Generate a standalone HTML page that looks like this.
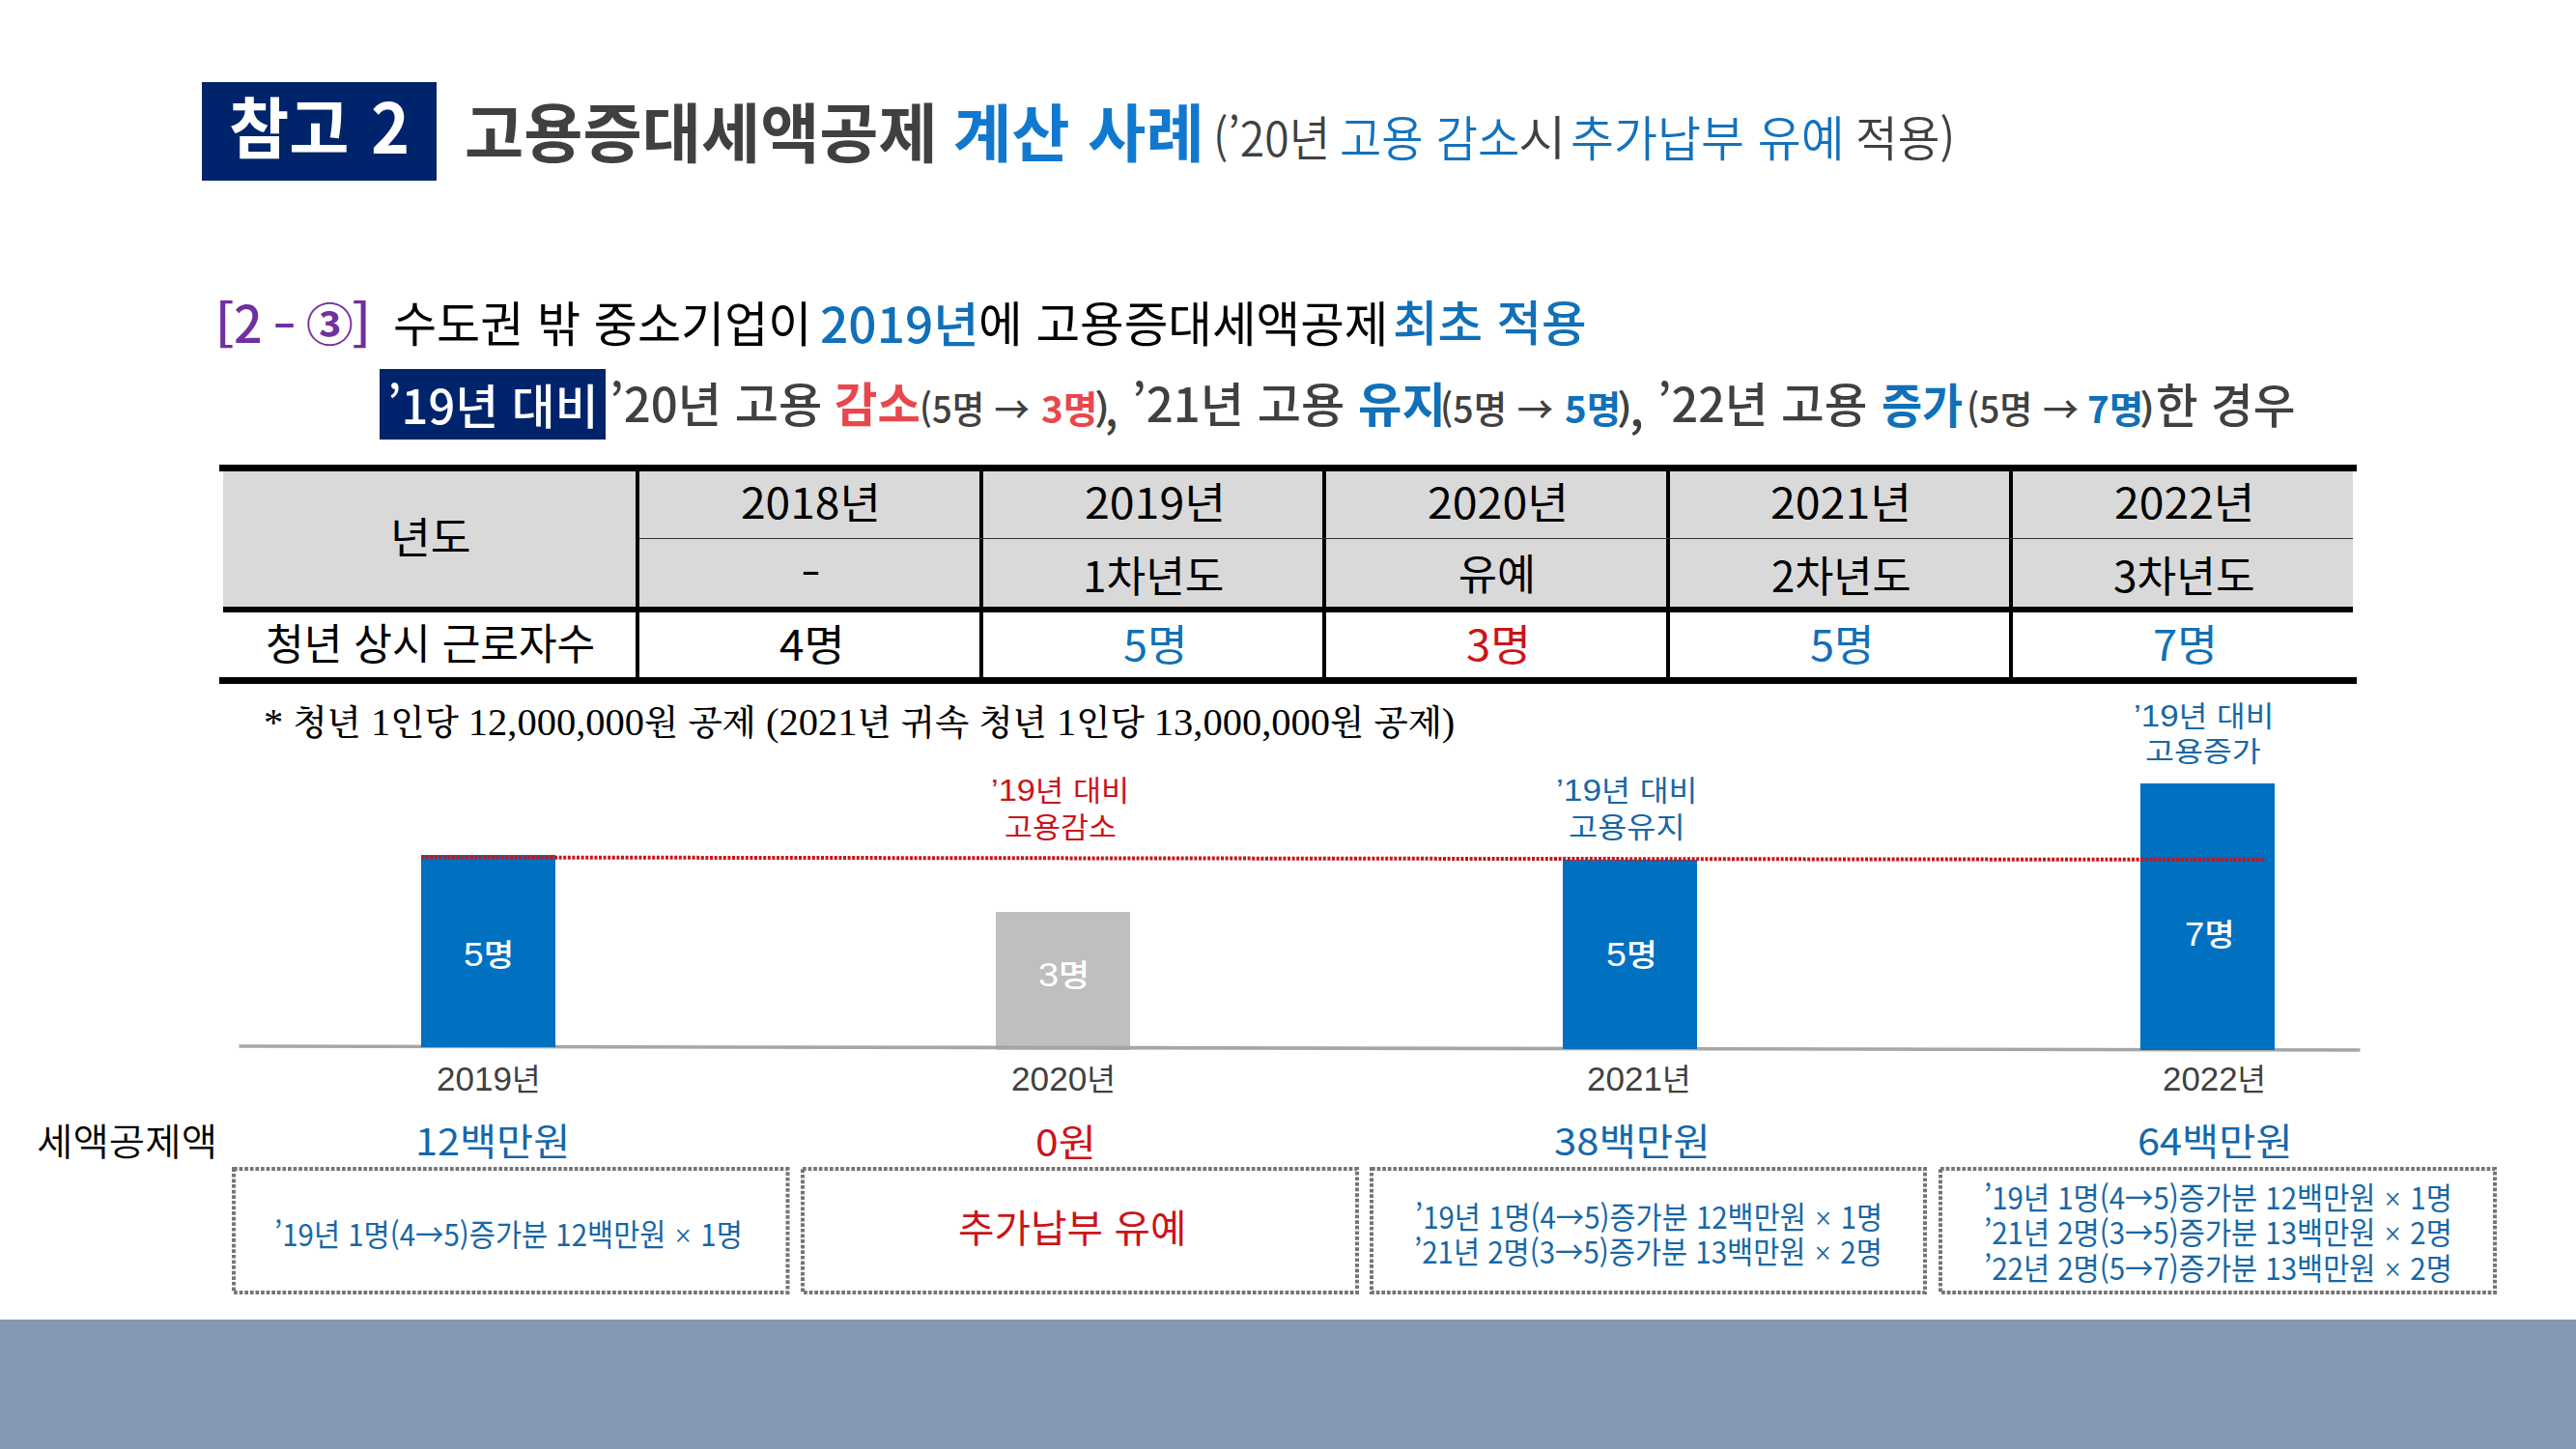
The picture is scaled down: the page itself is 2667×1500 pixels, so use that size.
<!DOCTYPE html>
<html lang="ko"><head><meta charset="utf-8"><title>고용증대세액공제 계산 사례</title><style>
html,body{margin:0;padding:0}
body{width:2667px;height:1500px;position:relative;overflow:hidden;background:#fff}
.t{position:absolute;white-space:pre;line-height:1;transform-origin:0 0;margin:0;padding:0}
.b{position:absolute}
svg{position:absolute;left:0;top:0}
</style></head><body>
<div class="b" style="left:0px;top:1366px;width:2667px;height:134px;background:#8598b3"></div>
<div class="b" style="left:209px;top:85px;width:243px;height:102px;background:#00246b"></div>
<div class="b" style="left:393px;top:382px;width:234px;height:72.5px;background:#00246b"></div>
<div class="b" style="left:230.5px;top:487px;width:2205.5px;height:141px;background:#d9d9d9"></div>
<div class="b" style="left:227px;top:481px;width:2213px;height:6.5px;background:#000"></div>
<div class="b" style="left:230.5px;top:627.5px;width:2205.5px;height:6.5px;background:#000"></div>
<div class="b" style="left:227px;top:701px;width:2213px;height:6.5px;background:#000"></div>
<div class="b" style="left:658px;top:487px;width:4px;height:214px;background:#000"></div>
<div class="b" style="left:1014px;top:487px;width:4px;height:214px;background:#000"></div>
<div class="b" style="left:1369px;top:487px;width:4px;height:214px;background:#000"></div>
<div class="b" style="left:1725px;top:487px;width:4px;height:214px;background:#000"></div>
<div class="b" style="left:2080px;top:487px;width:4px;height:214px;background:#000"></div>
<div class="b" style="left:662px;top:557.2px;width:1774px;height:1.2px;background:#333"></div>
<svg width="2667" height="1500" viewBox="0 0 2667 1500"><polygon points="247.5,1081.2 2443.5,1085.2 2443.5,1088.8 247.5,1084.8" fill="#a6a6a6"/></svg>
<div class="b" style="left:436px;top:885px;width:139px;height:198.5px;background:#0070c0"></div>
<div class="b" style="left:1031px;top:944px;width:139px;height:140px;background:#bfbfbf"></div>
<div class="b" style="left:1618px;top:890px;width:139px;height:196px;background:#0070c0"></div>
<div class="b" style="left:2216px;top:811px;width:139px;height:276.3px;background:#0070c0"></div>
<svg width="2667" height="1500" viewBox="0 0 2667 1500"><polygon points="1031,1082.4 1170,1082.7 1170,1086.7 1031,1086.4" fill="#a3a3a3"/><line x1="436" y1="887.5" x2="2346" y2="890" stroke="#cb1419" stroke-width="4" stroke-dasharray="3 1.6"/><rect x="242" y="1210" width="573.5" height="128" fill="none" stroke="#757575" stroke-width="4" stroke-dasharray="3.7 1.9"/><rect x="831" y="1210" width="574" height="128" fill="none" stroke="#757575" stroke-width="4" stroke-dasharray="3.7 1.9"/><rect x="1420" y="1210" width="573" height="128" fill="none" stroke="#757575" stroke-width="4" stroke-dasharray="3.7 1.9"/><rect x="2009" y="1210" width="574" height="128" fill="none" stroke="#757575" stroke-width="4" stroke-dasharray="3.7 1.9"/></svg>
<span class="t" style='left:237.3px;top:93.74px;font-size:69.57px;transform:scaleX(0.9719);color:#fff;font-family:"Noto Sans CJK KR","Liberation Sans",sans-serif;font-weight:700'>참고</span>
<span class="t" style='left:384.28px;top:92.04px;font-size:72.0px;transform:scaleX(0.9444);color:#fff;font-family:"Noto Sans CJK KR","Liberation Sans",sans-serif;font-weight:700'>2</span>
<span class="t" style='left:481.34px;top:101.0px;font-size:66.67px;transform:scaleX(0.9984);color:#404040;font-family:"Noto Sans CJK KR","Liberation Sans",sans-serif;font-weight:700'>고용증대세액공제</span>
<span class="t" style='left:987.03px;top:102.16px;font-size:64.74px;transform:scaleX(1.0132);color:#1079cf;font-family:"Noto Sans CJK KR","Liberation Sans",sans-serif;font-weight:700'>계산 사례</span>
<span class="t" style='left:1255.83px;top:115.77px;font-size:49.5px;transform:scaleX(0.935);color:#404040;font-family:"Noto Sans CJK KR","Liberation Sans",sans-serif;font-weight:350'>(’20년</span>
<span class="t" style='left:1387.14px;top:115.53px;font-size:49.5px;transform:scaleX(0.95);color:#1472bc;font-family:"Noto Sans CJK KR","Liberation Sans",sans-serif;font-weight:350'>고용 감소</span>
<span class="t" style='left:1572.3px;top:115.28px;font-size:49.5px;transform:scaleX(1.0899);color:#404040;font-family:"Noto Sans CJK KR","Liberation Sans",sans-serif;font-weight:350'>시</span>
<span class="t" style='left:1626.05px;top:115.53px;font-size:49.5px;transform:scaleX(0.9886);color:#1472bc;font-family:"Noto Sans CJK KR","Liberation Sans",sans-serif;font-weight:350'>추가납부 유예</span>
<span class="t" style='left:1921.15px;top:115.77px;font-size:49.5px;transform:scaleX(0.9601);color:#404040;font-family:"Noto Sans CJK KR","Liberation Sans",sans-serif;font-weight:350'>적용)</span>
<span class="t" style='left:222.09px;top:308.43px;font-size:51.04px;transform:scaleX(1.1577);color:#7030a0;font-family:"Noto Sans CJK KR","Liberation Sans",sans-serif;font-weight:500'>[</span>
<span class="t" style='left:241.92px;top:306.42px;font-size:52.67px;transform:scaleX(0.9888);color:#7030a0;font-family:"Noto Sans CJK KR","Liberation Sans",sans-serif;font-weight:500'>2</span>
<span class="t" style='left:282.47px;top:310.77px;font-size:47.5px;transform:scaleX(1.4693);color:#7030a0;font-family:"Noto Sans CJK KR","Liberation Sans",sans-serif;font-weight:500'>-</span>
<span class="t" style='left:317.45px;top:309.72px;font-size:46.88px;transform:scaleX(1.0364);color:#7030a0;font-family:"Noto Sans CJK KR","Liberation Sans",sans-serif;font-weight:700'>③</span>
<span class="t" style='left:363.56px;top:308.43px;font-size:51.04px;transform:scaleX(1.1361);color:#7030a0;font-family:"Noto Sans CJK KR","Liberation Sans",sans-serif;font-weight:500'>]</span>
<span class="t" style='left:407.05px;top:307.0px;font-size:50.0px;transform:scaleX(0.9804);color:#000;font-family:"Noto Sans CJK KR","Liberation Sans",sans-serif;font-weight:400'>수도권 밖 중소기업이</span>
<span class="t" style='left:848.94px;top:307.75px;font-size:50.0px;transform:scaleX(1.0293);color:#1070b8;font-family:"Noto Sans CJK KR","Liberation Sans",sans-serif;font-weight:500'>2019년</span>
<span class="t" style='left:1013.02px;top:307.25px;font-size:50.0px;transform:scaleX(0.9917);color:#000;font-family:"Noto Sans CJK KR","Liberation Sans",sans-serif;font-weight:400'>에 고용증대세액공제</span>
<span class="t" style='left:1441.97px;top:306.25px;font-size:50.0px;transform:scaleX(1.013);color:#1070b8;font-family:"Noto Sans CJK KR","Liberation Sans",sans-serif;font-weight:500'>최초 적용</span>
<span class="t" style='left:401.09px;top:392.54px;font-size:49.0px;transform:scaleX(0.9966);color:#fff;font-family:"Noto Sans CJK KR","Liberation Sans",sans-serif;font-weight:500'>’19년 대비</span>
<span class="t" style='left:631.06px;top:391.28px;font-size:49.0px;transform:scaleX(1.004);color:#404040;font-family:"Noto Sans CJK KR","Liberation Sans",sans-serif;font-weight:500'>’20년 고용</span>
<span class="t" style='left:864.07px;top:390.55px;font-size:49.0px;transform:scaleX(0.9856);color:#e8474c;font-family:"Noto Sans CJK KR","Liberation Sans",sans-serif;font-weight:700'>감소</span>
<span class="t" style='left:951.72px;top:403.44px;font-size:38.3px;transform:scaleX(0.9518);color:#404040;font-family:"Noto Sans CJK KR","Liberation Sans",sans-serif;font-weight:500'>(5명 →</span>
<span class="t" style='left:1077.84px;top:402.74px;font-size:38.3px;transform:scaleX(1.0123);color:#e8474c;font-family:"Noto Sans CJK KR","Liberation Sans",sans-serif;font-weight:700'>3명</span>
<span class="t" style='left:1132.73px;top:403.44px;font-size:38.3px;transform:scaleX(1.1868);color:#404040;font-family:"Noto Sans CJK KR","Liberation Sans",sans-serif;font-weight:500'>)</span>
<span class="t" style='left:1144.33px;top:395.7px;font-size:49.0px;transform:scaleX(0.907);color:#404040;font-family:"Noto Sans CJK KR","Liberation Sans",sans-serif;font-weight:500'>,</span>
<span class="t" style='left:1172.06px;top:391.28px;font-size:49.0px;transform:scaleX(1.004);color:#404040;font-family:"Noto Sans CJK KR","Liberation Sans",sans-serif;font-weight:500'>’21년 고용</span>
<span class="t" style='left:1405.52px;top:390.8px;font-size:49.0px;transform:scaleX(1.0084);color:#1070b8;font-family:"Noto Sans CJK KR","Liberation Sans",sans-serif;font-weight:700'>유지</span>
<span class="t" style='left:1490.63px;top:403.44px;font-size:38.3px;transform:scaleX(0.9781);color:#404040;font-family:"Noto Sans CJK KR","Liberation Sans",sans-serif;font-weight:500'>(5명 →</span>
<span class="t" style='left:1619.85px;top:402.74px;font-size:38.3px;transform:scaleX(1.0028);color:#1070b8;font-family:"Noto Sans CJK KR","Liberation Sans",sans-serif;font-weight:700'>5명</span>
<span class="t" style='left:1673.73px;top:403.44px;font-size:38.3px;transform:scaleX(1.1868);color:#404040;font-family:"Noto Sans CJK KR","Liberation Sans",sans-serif;font-weight:500'>)</span>
<span class="t" style='left:1687.0px;top:395.7px;font-size:49.0px;transform:scaleX(1.0204);color:#404040;font-family:"Noto Sans CJK KR","Liberation Sans",sans-serif;font-weight:500'>,</span>
<span class="t" style='left:1716.12px;top:391.28px;font-size:49.0px;transform:scaleX(0.9899);color:#404040;font-family:"Noto Sans CJK KR","Liberation Sans",sans-serif;font-weight:500'>’22년 고용</span>
<span class="t" style='left:1948.17px;top:392.06px;font-size:49.0px;transform:scaleX(0.9339);color:#1070b8;font-family:"Noto Sans CJK KR","Liberation Sans",sans-serif;font-weight:700'>증가</span>
<span class="t" style='left:2035.66px;top:403.44px;font-size:38.3px;transform:scaleX(0.9693);color:#404040;font-family:"Noto Sans CJK KR","Liberation Sans",sans-serif;font-weight:500'>(5명 →</span>
<span class="t" style='left:2160.57px;top:402.74px;font-size:38.3px;transform:scaleX(1.008);color:#1070b8;font-family:"Noto Sans CJK KR","Liberation Sans",sans-serif;font-weight:700'>7명</span>
<span class="t" style='left:2215.23px;top:403.44px;font-size:38.3px;transform:scaleX(1.1868);color:#404040;font-family:"Noto Sans CJK KR","Liberation Sans",sans-serif;font-weight:500'>)</span>
<span class="t" style='left:2231.63px;top:391.56px;font-size:49.0px;transform:scaleX(0.9691);color:#404040;font-family:"Noto Sans CJK KR","Liberation Sans",sans-serif;font-weight:500'>한 경우</span>
<span class="t" style='left:404.43px;top:531.77px;font-size:44.0px;transform:scaleX(1.0344);color:#000;font-family:"Noto Sans CJK KR","Liberation Sans",sans-serif;font-weight:400'>년도</span>
<span class="t" style='left:767.15px;top:496.02px;font-size:44.0px;transform:scaleX(1.0492);color:#000;font-family:"Noto Sans CJK KR","Liberation Sans",sans-serif;font-weight:400'>2018년</span>
<span class="t" style='left:1122.64px;top:496.02px;font-size:44.0px;transform:scaleX(1.0568);color:#000;font-family:"Noto Sans CJK KR","Liberation Sans",sans-serif;font-weight:400'>2019년</span>
<span class="t" style='left:1478.14px;top:496.02px;font-size:44.0px;transform:scaleX(1.0568);color:#000;font-family:"Noto Sans CJK KR","Liberation Sans",sans-serif;font-weight:400'>2020년</span>
<span class="t" style='left:1833.14px;top:496.02px;font-size:44.0px;transform:scaleX(1.0568);color:#000;font-family:"Noto Sans CJK KR","Liberation Sans",sans-serif;font-weight:400'>2021년</span>
<span class="t" style='left:2189.15px;top:496.02px;font-size:44.0px;transform:scaleX(1.053);color:#000;font-family:"Noto Sans CJK KR","Liberation Sans",sans-serif;font-weight:400'>2022년</span>
<span class="t" style='left:829.0px;top:569.02px;font-size:44.0px;transform:scaleX(1.3636);color:#000;font-family:"Noto Sans CJK KR","Liberation Sans",sans-serif;font-weight:400'>-</span>
<span class="t" style='left:1121.03px;top:572.08px;font-size:44.0px;transform:scaleX(1.0037);color:#000;font-family:"Noto Sans CJK KR","Liberation Sans",sans-serif;font-weight:400'>1차년도</span>
<span class="t" style='left:1510.33px;top:569.58px;font-size:44.0px;transform:scaleX(0.9885);color:#000;font-family:"Noto Sans CJK KR","Liberation Sans",sans-serif;font-weight:400'>유예</span>
<span class="t" style='left:1833.75px;top:572.08px;font-size:44.0px;transform:scaleX(0.9917);color:#000;font-family:"Noto Sans CJK KR","Liberation Sans",sans-serif;font-weight:400'>2차년도</span>
<span class="t" style='left:2187.67px;top:572.08px;font-size:44.0px;transform:scaleX(1.0056);color:#000;font-family:"Noto Sans CJK KR","Liberation Sans",sans-serif;font-weight:400'>3차년도</span>
<span class="t" style='left:274.84px;top:641.58px;font-size:44.0px;transform:scaleX(0.9791);color:#000;font-family:"Noto Sans CJK KR","Liberation Sans",sans-serif;font-weight:400'>청년 상시 근로자수</span>
<span class="t" style='left:807.08px;top:642.58px;font-size:44.0px;transform:scaleX(1.0424);color:#000;font-family:"Noto Sans CJK KR","Liberation Sans",sans-serif;font-weight:400'>4명</span>
<span class="t" style='left:1163.15px;top:642.58px;font-size:44.0px;transform:scaleX(1.0245);color:#1070b8;font-family:"Noto Sans CJK KR","Liberation Sans",sans-serif;font-weight:400'>5명</span>
<span class="t" style='left:1517.62px;top:642.58px;font-size:44.0px;transform:scaleX(1.0316);color:#cb1419;font-family:"Noto Sans CJK KR","Liberation Sans",sans-serif;font-weight:400'>3명</span>
<span class="t" style='left:1873.65px;top:642.58px;font-size:44.0px;transform:scaleX(1.0245);color:#1070b8;font-family:"Noto Sans CJK KR","Liberation Sans",sans-serif;font-weight:400'>5명</span>
<span class="t" style='left:2228.73px;top:642.58px;font-size:44.0px;transform:scaleX(1.0315);color:#1070b8;font-family:"Noto Sans CJK KR","Liberation Sans",sans-serif;font-weight:400'>7명</span>
<span class="t" style='left:273.47px;top:727.2px;font-size:41.0px;transform:scaleX(0.9881);color:#000;font-family:"Liberation Serif","Noto Serif CJK KR","Noto Serif CJK SC",serif;font-weight:400'>* <span style="font-size:0.9em;font-weight:500">청년</span> 1<span style="font-size:0.9em;font-weight:500">인당</span> 12,000,000<span style="font-size:0.9em;font-weight:500">원</span> <span style="font-size:0.9em;font-weight:500">공제</span> (2021<span style="font-size:0.9em;font-weight:500">년</span> <span style="font-size:0.9em;font-weight:500">귀속</span> <span style="font-size:0.9em;font-weight:500">청년</span> 1<span style="font-size:0.9em;font-weight:500">인당</span> 13,000,000<span style="font-size:0.9em;font-weight:500">원</span> <span style="font-size:0.9em;font-weight:500">공제</span>)</span>
<span class="t" style='left:1026.49px;top:802.61px;font-size:31.81px;transform:scaleX(1.0857);color:#cb1419;font-family:"Liberation Sans","Noto Sans CJK KR",sans-serif;font-weight:400'>’19<span style="font-size:0.92em">년</span> <span style="font-size:0.92em">대비</span></span>
<span class="t" style='left:1040.18px;top:839.63px;font-size:32.29px;transform:scaleX(1.0619);color:#cb1419;font-family:"Liberation Sans","Noto Sans CJK KR",sans-serif;font-weight:400'><span style="font-size:0.92em">고용감소</span></span>
<span class="t" style='left:1611.43px;top:802.61px;font-size:31.81px;transform:scaleX(1.1095);color:#1767a6;font-family:"Liberation Sans","Noto Sans CJK KR",sans-serif;font-weight:400'>’19<span style="font-size:0.92em">년</span> <span style="font-size:0.92em">대비</span></span>
<span class="t" style='left:1624.21px;top:839.63px;font-size:32.29px;transform:scaleX(1.1037);color:#1767a6;font-family:"Liberation Sans","Noto Sans CJK KR",sans-serif;font-weight:400'><span style="font-size:0.92em">고용유지</span></span>
<span class="t" style='left:2208.54px;top:725.61px;font-size:31.81px;transform:scaleX(1.1004);color:#1767a6;font-family:"Liberation Sans","Noto Sans CJK KR",sans-serif;font-weight:400'>’19<span style="font-size:0.92em">년</span> <span style="font-size:0.92em">대비</span></span>
<span class="t" style='left:2220.73px;top:763.13px;font-size:31.6px;transform:scaleX(1.1193);color:#1767a6;font-family:"Liberation Sans","Noto Sans CJK KR",sans-serif;font-weight:400'><span style="font-size:0.92em">고용증가</span></span>
<span class="t" style='left:480.49px;top:971.15px;font-size:34.96px;transform:scaleX(1.0624);color:#fff;font-family:"Liberation Sans","Noto Sans CJK KR",sans-serif;font-weight:500'>5<span style="font-size:0.92em">명</span></span>
<span class="t" style='left:1074.58px;top:991.7px;font-size:34.68px;transform:scaleX(1.0926);color:#fff;font-family:"Liberation Sans","Noto Sans CJK KR",sans-serif;font-weight:500'>3<span style="font-size:0.92em">명</span></span>
<span class="t" style='left:1663.48px;top:971.15px;font-size:34.96px;transform:scaleX(1.0736);color:#fff;font-family:"Liberation Sans","Noto Sans CJK KR",sans-serif;font-weight:500'>5<span style="font-size:0.92em">명</span></span>
<span class="t" style='left:2262.16px;top:950.15px;font-size:34.96px;transform:scaleX(1.0499);color:#fff;font-family:"Liberation Sans","Noto Sans CJK KR",sans-serif;font-weight:500'>7<span style="font-size:0.92em">명</span></span>
<span class="t" style='left:452.24px;top:1099.88px;font-size:34.43px;transform:scaleX(1.0176);color:#404040;font-family:"Liberation Sans","Noto Sans CJK KR",sans-serif;font-weight:400'>2019<span style="font-size:0.92em">년</span></span>
<span class="t" style='left:1046.74px;top:1099.88px;font-size:34.43px;transform:scaleX(1.0226);color:#404040;font-family:"Liberation Sans","Noto Sans CJK KR",sans-serif;font-weight:400'>2020<span style="font-size:0.92em">년</span></span>
<span class="t" style='left:1643.24px;top:1099.88px;font-size:34.43px;transform:scaleX(1.0176);color:#404040;font-family:"Liberation Sans","Noto Sans CJK KR",sans-serif;font-weight:400'>2021<span style="font-size:0.92em">년</span></span>
<span class="t" style='left:2238.76px;top:1099.88px;font-size:34.43px;transform:scaleX(1.0126);color:#404040;font-family:"Liberation Sans","Noto Sans CJK KR",sans-serif;font-weight:400'>2022<span style="font-size:0.92em">년</span></span>
<span class="t" style='left:37.96px;top:1160.13px;font-size:38.7px;transform:scaleX(1.051);color:#000;font-family:"Noto Sans CJK KR","Liberation Sans",sans-serif;font-weight:350'>세액공제액</span>
<span class="t" style='left:430.27px;top:1160.38px;font-size:38.5px;transform:scaleX(1.0758);color:#1468ab;font-family:"Noto Sans CJK KR","Liberation Sans",sans-serif;font-weight:400'>12백만원</span>
<span class="t" style='left:1072.13px;top:1160.52px;font-size:38.5px;transform:scaleX(1.106);color:#cb1419;font-family:"Noto Sans CJK KR","Liberation Sans",sans-serif;font-weight:400'>0원</span>
<span class="t" style='left:1609.49px;top:1160.13px;font-size:38.5px;transform:scaleX(1.0856);color:#1468ab;font-family:"Noto Sans CJK KR","Liberation Sans",sans-serif;font-weight:400'>38백만원</span>
<span class="t" style='left:2213.49px;top:1160.13px;font-size:38.5px;transform:scaleX(1.0784);color:#1468ab;font-family:"Noto Sans CJK KR","Liberation Sans",sans-serif;font-weight:400'>64백만원</span>
<span class="t" style='left:283.94px;top:1260.58px;font-size:31.5px;transform:scaleX(0.9352);color:#1767a6;font-family:"Noto Sans CJK KR","Liberation Sans",sans-serif;font-weight:400'>’19년 1명(4→5)증가분 12백만원 <span style="font-size:0.66em;vertical-align:.13em;font-weight:500">×</span> 1명</span>
<span class="t" style='left:992.2px;top:1249.25px;font-size:39.8px;transform:scaleX(1.0246);color:#cb1419;font-family:"Noto Sans CJK KR","Liberation Sans",sans-serif;font-weight:400'>추가납부 유예</span>
<span class="t" style='left:1464.69px;top:1242.58px;font-size:31.5px;transform:scaleX(0.9339);color:#1767a6;font-family:"Noto Sans CJK KR","Liberation Sans",sans-serif;font-weight:400'>’19년 1명(4→5)증가분 12백만원 <span style="font-size:0.66em;vertical-align:.13em;font-weight:500">×</span> 1명</span>
<span class="t" style='left:1463.94px;top:1278.71px;font-size:31.5px;transform:scaleX(0.9352);color:#1767a6;font-family:"Noto Sans CJK KR","Liberation Sans",sans-serif;font-weight:400'>’21년 2명(3→5)증가분 13백만원 <span style="font-size:0.66em;vertical-align:.13em;font-weight:500">×</span> 2명</span>
<span class="t" style='left:2053.94px;top:1223.08px;font-size:31.5px;transform:scaleX(0.9352);color:#1767a6;font-family:"Noto Sans CJK KR","Liberation Sans",sans-serif;font-weight:400'>’19년 1명(4→5)증가분 12백만원 <span style="font-size:0.66em;vertical-align:.13em;font-weight:500">×</span> 1명</span>
<span class="t" style='left:2053.94px;top:1258.83px;font-size:31.5px;transform:scaleX(0.9352);color:#1767a6;font-family:"Noto Sans CJK KR","Liberation Sans",sans-serif;font-weight:400'>’21년 2명(3→5)증가분 13백만원 <span style="font-size:0.66em;vertical-align:.13em;font-weight:500">×</span> 2명</span>
<span class="t" style='left:2053.94px;top:1295.58px;font-size:31.5px;transform:scaleX(0.9352);color:#1767a6;font-family:"Noto Sans CJK KR","Liberation Sans",sans-serif;font-weight:400'>’22년 2명(5→7)증가분 13백만원 <span style="font-size:0.66em;vertical-align:.13em;font-weight:500">×</span> 2명</span>
</body></html>
